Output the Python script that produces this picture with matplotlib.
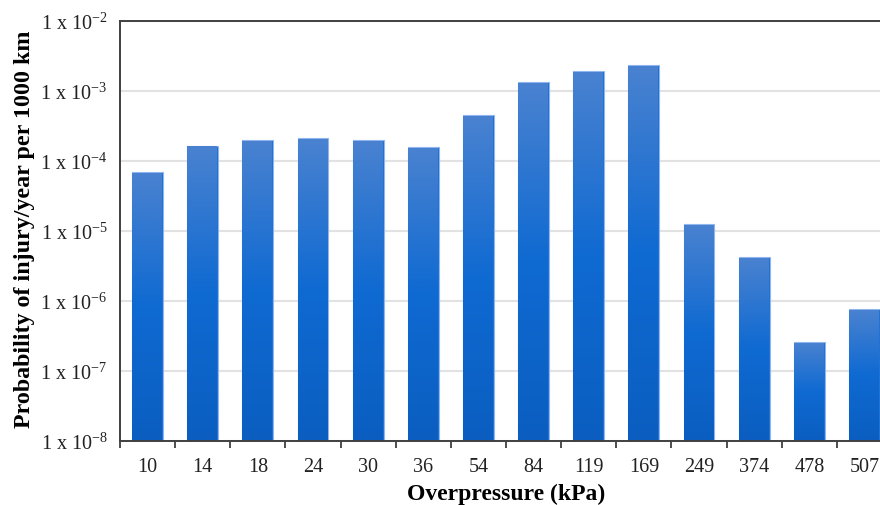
import matplotlib
matplotlib.use("Agg")
import matplotlib.pyplot as plt
import matplotlib.transforms as mtransforms
import numpy as np
from matplotlib.colors import LinearSegmentedColormap
from matplotlib.ticker import FixedLocator, FuncFormatter, NullLocator

# overpressure categories (kPa) and probability of injury / year per 1000 km
pressures = ["10", "14", "18", "24", "30", "36", "54", "84",
             "119", "169", "249", "374", "478", "507"]
probability = [6.9e-5, 1.64e-4, 1.98e-4, 2.11e-4, 1.96e-4, 1.58e-4, 4.45e-4,
               1.33e-3, 1.91e-3, 2.33e-3, 1.25e-5, 4.2e-6, 2.57e-7, 7.5e-7]

plt.rcParams['font.family'] = ['Liberation Serif', 'DejaVu Serif']
plt.rcParams['mathtext.fontset'] = 'custom'
plt.rcParams['mathtext.rm'] = 'Liberation Serif'

fig = plt.figure(figsize=(8.8, 5.06), dpi=100)
ax = fig.add_axes([0.13636, 0.12708, 0.87727, 0.83004])

ax.set_yscale('log')
ymin, ymax = 1e-8, 1e-2
ax.set_ylim(ymin, ymax)
ax.set_xlim(-0.5, len(pressures) - 0.5)

x = np.arange(len(pressures))
bars = ax.bar(x, probability, width=0.56, color='#1a6fd4',
              edgecolor='#8fb6ee', linewidth=0.8, zorder=2)

# vertical gradient on each bar, like the spreadsheet fill
# (drawn with x in data units and y in axes units so the log scale
# does not squash it)
grad_cmap = LinearSegmentedColormap.from_list(
    'bar_grad', ['#0b5ec0', '#0f6ad2', '#4a82d0'])
grad = np.linspace(0, 1, 256).reshape(-1, 1)
blend = mtransforms.blended_transform_factory(ax.transData, ax.transAxes)
to_axes = ax.transScale + ax.transLimits
for b, val in zip(bars, probability):
    top = to_axes.transform((0, val))[1]
    im = ax.imshow(grad, cmap=grad_cmap, aspect='auto', origin='lower',
                   extent=[b.get_x(), b.get_x() + b.get_width(), 0, top],
                   zorder=2.5, interpolation='bilinear', transform=blend)
    im.set_clip_path(b)
ax.set_xlim(-0.5, len(pressures) - 0.5)
ax.set_ylim(ymin, ymax)

# y axis: decades written as "1 x 10^n"
ax.yaxis.set_major_locator(FixedLocator([10.0 ** k for k in range(-8, -1)]))
ax.yaxis.set_minor_locator(NullLocator())
ax.yaxis.set_major_formatter(FuncFormatter(
    lambda v, pos: r'1 x 10$^{\mathregular{%d}}$' % round(np.log10(v))))
ax.tick_params(axis='y', length=0, pad=9, labelsize=14.5, colors='#222222')
ax.grid(axis='y', color='#e2e2e2', linewidth=1.5, zorder=0)
ax.set_axisbelow(True)

# x axis: labels at centres, tick marks between categories
ax.set_xticks(x)
ax.set_xticklabels(pressures)
ax.set_xticks(np.arange(-0.5, len(pressures)), minor=True)
ax.tick_params(axis='x', which='major', length=0, pad=12, labelsize=14.5,
               colors='#222222')
ax.tick_params(axis='x', which='minor', length=5, width=1.3,
               direction='out', color='#404040')

for side in ['left', 'bottom', 'top']:
    ax.spines[side].set_color('#404040')
    ax.spines[side].set_linewidth(1.4)
ax.spines['right'].set_visible(False)

ax.set_xlabel("Overpressure (kPa)", fontsize=17, fontweight='bold')
ax.xaxis.set_label_coords(0.5, -0.1)
ax.set_ylabel("Probability of injury/year per 1000 km", fontsize=17.3,
              fontweight='bold')
ax.yaxis.set_label_coords(-0.11, 0.505)

fig.savefig("out.png", dpi=100)
